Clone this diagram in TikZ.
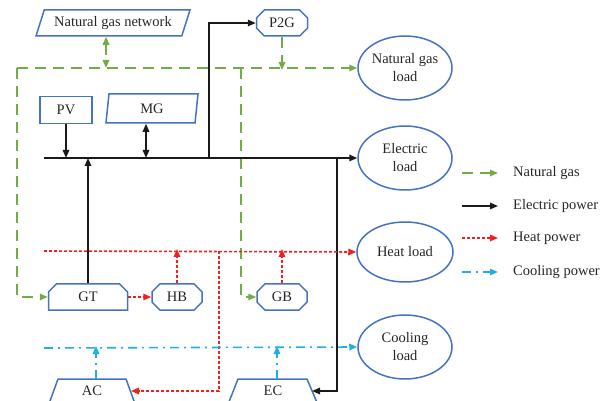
\documentclass[tikz,border=0pt]{standalone}
\usepackage{fontspec}
\setmainfont{Liberation Serif}
\usetikzlibrary{arrows.meta,shapes.geometric,shapes.misc}
\definecolor{nblue}{HTML}{4472C4}
\definecolor{ngreen}{HTML}{70AD47}
\definecolor{nred}{HTML}{F02020}
\definecolor{ncyan}{HTML}{1EAEE8}
\definecolor{ntext}{HTML}{262626}
\begin{document}
\begin{tikzpicture}[x=1pt,y=-1pt,
  font=\fontsize{14.5}{18}\selectfont, text=ntext,
  box/.style={draw=nblue,line width=1.5pt,inner sep=0pt,align=center},
  rectbox/.style={box,rectangle,minimum width=#1,minimum height=26},
  octbox/.style={box,chamfered rectangle,chamfered rectangle xsep=5pt,chamfered rectangle angle=45,minimum width=#1,minimum height=26},
  loadbox/.style={box,ellipse,minimum width=94,minimum height=64},
  gas/.style={draw=ngreen,line width=1.6pt,dash pattern=on 11pt off 7pt,-{Triangle[length=8pt,width=6.5pt]},color=ngreen},
  elec/.style={draw=black!90,line width=1.5pt,-{Triangle[length=8pt,width=6.5pt]},color=black!90},
  heat/.style={draw=nred,line width=1.6pt,dash pattern=on 3pt off 2pt,-{Triangle[length=8pt,width=6.5pt]},color=nred},
  cool/.style={draw=ncyan,line width=1.6pt,dash pattern=on 9pt off 5pt on 2pt off 5pt,-{Triangle[length=8pt,width=6.5pt]},color=ncyan},
  lgtext/.style={anchor=west,inner sep=0pt}
]
\useasboundingbox (0,0) rectangle (614,401);
\clip (0,0) rectangle (614,401);

% ---------- nodes ----------
\node[box,trapezium,trapezium left angle=58,trapezium right angle=122,trapezium stretches body,minimum width=154,minimum height=26] (NGN) at (113,23) {Natural gas network};
\node[octbox=51] (P2G) at (282,23) {P2G};
\node[loadbox] (NGL) at (405,68) {Natural gas\\load};
\node[loadbox] (EL) at (405,158) {Electric\\load};
\node[loadbox,minimum width=96,minimum height=60] (HL) at (405,252) {Heat load};
\node[loadbox] (CL) at (405,347) {Cooling\\load};
\node[rectbox=52,minimum height=27] (PV) at (66,110) {PV};
\node[box,trapezium,trapezium left angle=73,trapezium right angle=107,trapezium stretches body,minimum width=92,minimum height=29] (MG) at (152,108.5) {MG};
\node[octbox=79,chamfered rectangle corners={north west,north east}] (GT) at (88,297) {GT};
\node[octbox=50] (HB) at (177,297) {HB};
\node[octbox=50] (GB) at (282,297) {GB};
\draw[draw=nblue,line width=1.5pt] (58,379) -- (126,379) -- (138,412) -- (46,412) -- cycle;
\draw[draw=nblue,line width=1.5pt] (238,379) -- (307,379) -- (321,412) -- (225,412) -- cycle;
\node[inner sep=0pt] (AC) at (92,391) {AC};
\node[inner sep=0pt] (EC) at (273,391) {EC};

% ---------- coordinates ----------
\coordinate (busL) at (44,158);
\coordinate (gasL) at (17,68);
\coordinate (gasM) at (241,68);
\coordinate (heatL) at (44,251);
\coordinate (heatM) at (219,251);
\coordinate (coolL) at (44,348);
\coordinate (p2gtap) at (209,158);
\coordinate (ectap) at (337,158);
\coordinate (ecin) at (312,391);
\coordinate (acin) at (131,391);
\coordinate (actop) at (96,379);
\coordinate (ectop) at (277,379);

% ---------- natural gas ----------
\draw[gas] (gasL) -- (NGL.west);
\draw[gas,{Triangle[length=8pt,width=6.5pt]}-{Triangle[length=8pt,width=6.5pt]}] ([xshift=-7pt]NGN.south) -- ([xshift=-7pt]NGN.south |- gasL);
\draw[gas] (P2G.south) -- ([yshift=-2pt]P2G.south |- gasL);
\draw[gas] (gasL) |- (GT.west);
\draw[gas] (gasM) |- (GB.west);

% ---------- electric ----------
\draw[elec] (busL) -- (EL.west);
\draw[elec] (PV.south) -- (PV.south |- busL);
\draw[elec,{Triangle[length=8pt,width=6.5pt]}-{Triangle[length=8pt,width=6.5pt]}] ([xshift=-6pt]MG.south) -- ([xshift=-6pt]MG.south |- busL);
\draw[elec] (GT.north) -- (GT.north |- busL);
\draw[elec] (p2gtap) |- (P2G.west);
\draw[elec] (ectap) |- (ecin);

% ---------- heat ----------
\draw[heat] (heatL) -- (HL.west);
\draw[heat] (GT.east) -- (HB.west);
\draw[heat] (HB.north) -- ([yshift=2pt]HB.north |- heatL);
\draw[heat] (GB.north) -- ([yshift=2pt]GB.north |- heatL);
\draw[heat] (heatM) |- (acin);

% ---------- cooling ----------
\draw[cool] (coolL) -- (CL.west);
\draw[cool] (actop) -- ([yshift=2pt]actop |- coolL);
\draw[cool] (ectop) -- ([yshift=2pt]ectop |- coolL);

% ---------- legend ----------
\coordinate (lg1a) at (462,173); \coordinate (lg1b) at (498,173);
\coordinate (lg2a) at (462,206); \coordinate (lg2b) at (498,206);
\coordinate (lg3a) at (462,238); \coordinate (lg3b) at (498,238);
\coordinate (lg4a) at (462,272); \coordinate (lg4b) at (498,272);
\draw[gas] (lg1a) -- (lg1b);
\draw[elec] (lg2a) -- (lg2b);
\draw[heat] (lg3a) -- (lg3b);
\draw[cool] (lg4a) -- (lg4b);
\node[lgtext] (lt1) at (513,173) {Natural gas};
\node[lgtext] (lt2) at (513,206) {Electric power};
\node[lgtext] (lt3) at (513,238) {Heat power};
\node[lgtext] (lt4) at (513,272) {Cooling power};
\end{tikzpicture}
\end{document}
